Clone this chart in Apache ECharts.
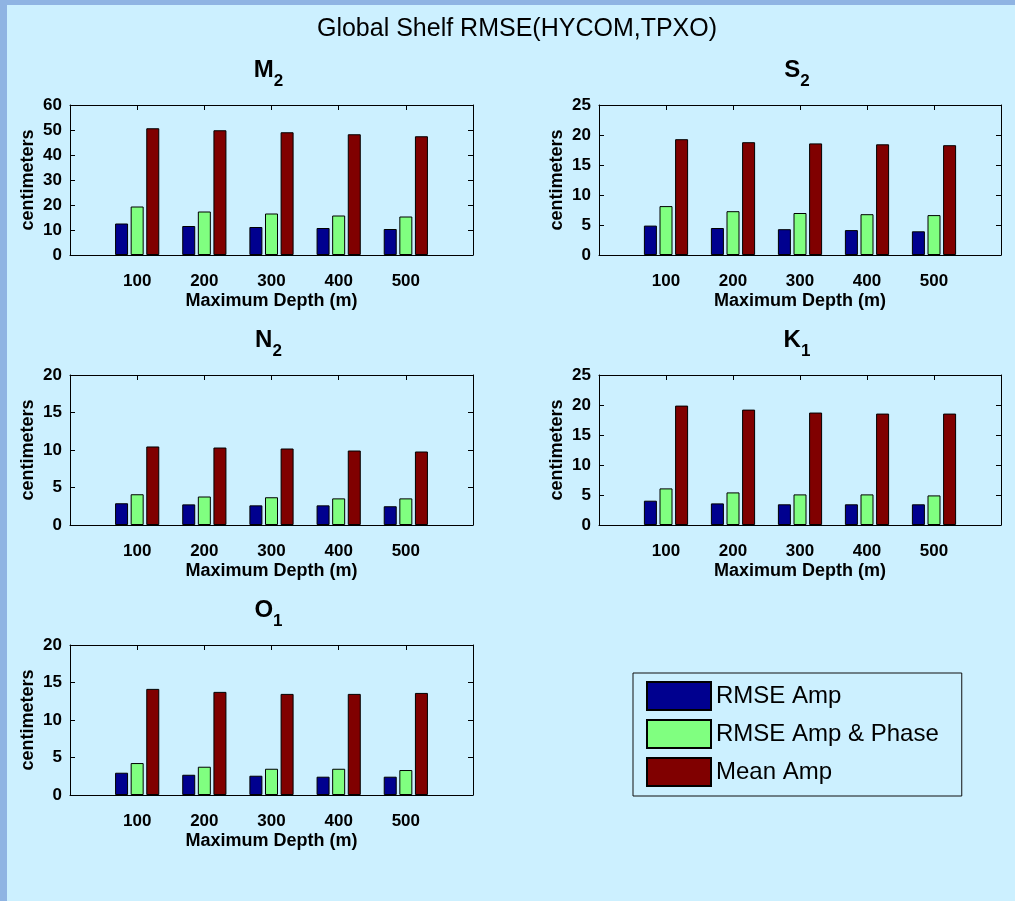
<!DOCTYPE html>
<html>
<head>
<meta charset="utf-8">
<script src="https://cdn.jsdelivr.net/npm/echarts@6/dist/echarts.min.js"></script>
<style>
html,body{margin:0;padding:0;background:#ccf0ff;}
#main{width:1015px;height:901px;}
</style>
</head>
<body>
<div id="main"></div>
<script>
// ---- data ----
const depths = [100, 200, 300, 400, 500];
const xTickLabels = ['100', '200', '300', '400', '500'];
const seriesNames = ['RMSE Amp', 'RMSE Amp & Phase', 'Mean Amp'];
const panelNames = ['M', 'S', 'N', 'K', 'O'];
const panelSubs = ['2', '2', '2', '1', '1'];
const yMaxes = [60, 25, 20, 25, 20];
const yIntervals = [10, 5, 5, 5, 5];

const m2RmseAmp = [12.6, 11.6, 11.2, 10.8, 10.4];
const m2RmsePhase = [19.4, 17.4, 16.6, 15.8, 15.4];
const m2MeanAmp = [50.7, 49.9, 49.1, 48.3, 47.5];

const s2RmseAmp = [4.9, 4.5, 4.3, 4.15, 3.95];
const s2RmsePhase = [8.15, 7.3, 7.0, 6.8, 6.65];
const s2MeanAmp = [19.3, 18.8, 18.6, 18.45, 18.3];

const n2RmseAmp = [2.9, 2.75, 2.62, 2.62, 2.5];
const n2RmsePhase = [4.1, 3.8, 3.7, 3.55, 3.55];
const n2MeanAmp = [10.47, 10.33, 10.2, 9.93, 9.8];

const k1RmseAmp = [4.05, 3.6, 3.45, 3.45, 3.45];
const k1RmsePhase = [6.1, 5.43, 5.1, 5.1, 4.93];
const k1MeanAmp = [19.9, 19.23, 18.74, 18.57, 18.57];

const o1RmseAmp = [2.97, 2.7, 2.57, 2.44, 2.44];
const o1RmsePhase = [4.26, 3.77, 3.5, 3.5, 3.33];
const o1MeanAmp = [14.15, 13.75, 13.48, 13.48, 13.61];

const panelData = [
  [m2RmseAmp, m2RmsePhase, m2MeanAmp],
  [s2RmseAmp, s2RmsePhase, s2MeanAmp],
  [n2RmseAmp, n2RmsePhase, n2MeanAmp],
  [k1RmseAmp, k1RmsePhase, k1MeanAmp],
  [o1RmseAmp, o1RmsePhase, o1MeanAmp]
];

// ---- layout / style ----
const FONT = 'Liberation Sans, Arial, Helvetica, sans-serif';
const colors = ['#00008f', '#80ff80', '#800000'];
const gridBoxes = [
  {left: 70, top: 105, width: 403, height: 150},
  {left: 599, top: 105, width: 402, height: 150},
  {left: 70, top: 375, width: 403, height: 150},
  {left: 599, top: 375, width: 402, height: 150},
  {left: 70, top: 645, width: 403, height: 150}
];

const grids = [], xAxes = [], yAxes = [], series = [];
const titles = [{
  text: 'Global Shelf RMSE(HYCOM,TPXO)',
  left: 517, top: 17, textAlign: 'center', padding: 0,
  textStyle: {fontFamily: FONT, fontSize: 25, fontWeight: 'normal', color: '#000'}
}];

const lineStyle = {color: '#000', width: 1};
const axisLine = {show: true, onZero: false, lineStyle};
const axisTick = {show: true, inside: true, length: 5, lineStyle};

gridBoxes.forEach((g, i) => {
  grids.push({left: g.left, top: g.top, width: g.width, height: g.height, containLabel: false});
  titles.push({
    text: '{m|' + panelNames[i] + '}{s|' + panelSubs[i] + '}',
    left: g.left + g.width / 2 - 3, top: 58 + Math.floor(i / 2) * 270, textAlign: 'center', padding: 0,
    textStyle: {
      fontFamily: FONT, color: '#000',
      rich: {
        m: {fontFamily: FONT, fontSize: 24, lineHeight: 24, verticalAlign: 'top', color: '#000'},
        s: {fontFamily: FONT, fontSize: 17, lineHeight: 32, verticalAlign: 'bottom', color: '#000'}
      }
    }
  });

  xAxes.push({
    gridIndex: i, type: 'value', position: 'bottom', min: 0, max: 600, interval: 100,
    axisLine, axisTick, splitLine: {show: false},
    axisLabel: {
      margin: 18, fontFamily: FONT, fontSize: 17, fontWeight: 'bold', color: '#000',
      formatter: v => { const k = depths.indexOf(v); return k >= 0 ? xTickLabels[k] : ''; }
    },
    name: 'Maximum Depth (m)', nameLocation: 'middle', nameGap: 37,
    nameTextStyle: {fontFamily: FONT, fontSize: 18, fontWeight: 'bold', color: '#000'}
  });
  xAxes.push({
    gridIndex: i, type: 'value', position: 'top', min: 0, max: 600, interval: 100,
    axisLine, axisTick, axisLabel: {show: false}, splitLine: {show: false}
  });
  yAxes.push({
    gridIndex: i, type: 'value', position: 'left', min: 0, max: yMaxes[i], interval: yIntervals[i],
    axisLine, axisTick, splitLine: {show: false},
    axisLabel: {margin: 8, fontFamily: FONT, fontSize: 17, fontWeight: 'bold', color: '#000'},
    name: 'centimeters', nameLocation: 'middle', nameGap: 33,
    nameTextStyle: {fontFamily: FONT, fontSize: 18, fontWeight: 'bold', color: '#000'}
  });
  yAxes.push({
    gridIndex: i, type: 'value', position: 'right', min: 0, max: yMaxes[i], interval: yIntervals[i],
    axisLine, axisTick, axisLabel: {show: false}, splitLine: {show: false}
  });
  panelData[i].forEach((vals, s) => {
    series.push({
      type: 'bar', name: seriesNames[s],
      xAxisIndex: 2 * i, yAxisIndex: 2 * i,
      barWidth: 13, barGap: '20%',
      itemStyle: {color: colors[s], borderColor: '#000', borderWidth: 1},
      data: depths.map((d, k) => [d, vals[k]])
    });
  });
});

const chart = echarts.init(document.getElementById('main'), null, {renderer: 'canvas'});
chart.setOption({
  backgroundColor: '#ccf0ff',
  animation: false,
  textStyle: {fontFamily: FONT},
  title: titles,
  grid: grids,
  xAxis: xAxes,
  yAxis: yAxes,
  legend: {
    data: seriesNames, orient: 'vertical', left: 633, top: 673,
    icon: 'rect', itemWidth: 64, itemHeight: 28, itemGap: 8,
    padding: [8, 23, 9, 13], borderColor: '#111', borderWidth: 1,
    selectedMode: false,
    textStyle: {fontFamily: FONT, fontSize: 24, lineHeight: 28, color: '#000'}
  },
  graphic: [
    {type: 'rect', left: 0, top: 0, shape: {width: 1015, height: 5}, style: {fill: '#8fb4e3'}, silent: true},
    {type: 'rect', left: 0, top: 0, shape: {width: 7, height: 901}, style: {fill: '#8fb4e3'}, silent: true}
  ],
  series: series
});
</script>
</body>
</html>
